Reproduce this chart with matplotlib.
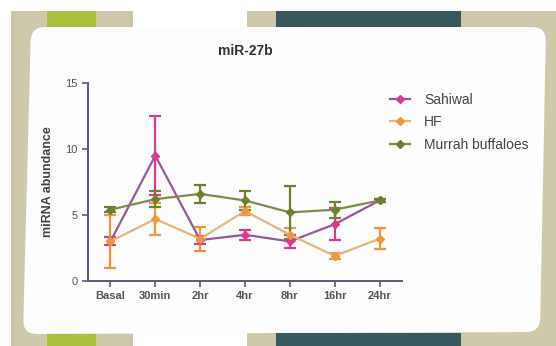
import numpy as np
import matplotlib
matplotlib.use("Agg")
import matplotlib.pyplot as plt
from matplotlib.path import Path
from matplotlib.patches import PathPatch, Rectangle
from matplotlib.lines import Line2D

plt.rcParams["font.family"] = ["Liberation Sans", "DejaVu Sans"]

# --- Data ---
timepoints = ["Basal", "30min", "2hr", "4hr", "8hr", "16hr", "24hr"]
sahiwal = [3.0, 9.5, 3.1, 3.5, 3.0, 4.3, 6.1]
sahiwal_err = [0.3, 3.0, 0.3, 0.4, 0.5, 1.2, 0.1]
hf = [3.0, 4.7, 3.2, 5.3, 3.5, 1.9, 3.2]
hf_err = [2.0, 1.2, 0.9, 0.3, 0.5, 0.2, 0.8]
murrah = [5.4, 6.2, 6.6, 6.1, 5.2, 5.4, 6.1]
murrah_err = [0.2, 0.6, 0.7, 0.7, 2.0, 0.6, 0.1]

W, H = 556, 346
fig = plt.figure(figsize=(W / 100, H / 100), dpi=100)
fig.patch.set_facecolor("white")

# --- background frame ---
bg = fig.add_axes([0, 0, 1, 1])
bg.set_xlim(0, W)
bg.set_ylim(H, 0)
bg.axis("off")

beige = "#cfc9ab"
bg.add_patch(Rectangle((11, 11), W - 11, H - 11, color=beige, lw=0))
bg.add_patch(Rectangle((133, 0), 114, 30, color="white", lw=0))
bg.add_patch(Rectangle((133, 326), 114, 30, color="white", lw=0))
bg.add_patch(Rectangle((47, 10.5), 49, 16.5, color="#abc03e", lw=0))
bg.add_patch(Rectangle((47, 333), 49, 13, color="#abc03e", lw=0))
bg.add_patch(Rectangle((276, 10.5), 185, 16.5, color="#37585c", lw=0))
bg.add_patch(Rectangle((276, 332.5), 185, 14, color="#37585c", lw=0))


def rounded_quad(pts, r):
    pts = [np.array(p, float) for p in pts]
    n = len(pts)
    verts, codes = [], []
    for i in range(n):
        p0, p1, p2 = pts[i - 1], pts[i], pts[(i + 1) % n]
        a = p1 + (p0 - p1) / np.linalg.norm(p0 - p1) * r
        b = p1 + (p2 - p1) / np.linalg.norm(p2 - p1) * r
        verts += [a, p1, b]
        codes += [Path.MOVETO if i == 0 else Path.LINETO, Path.CURVE3, Path.CURVE3]
    verts.append(verts[0])
    codes.append(Path.CLOSEPOLY)
    return Path(verts, codes)


card = rounded_quad([(31, 27), (546, 27), (540, 332), (23, 334)], 14)
bg.add_patch(PathPatch(card, facecolor="#fdfdfd", edgecolor="none"))

# --- chart ---
ax = fig.add_axes([88 / W, 1 - 281 / H, (402 - 88) / W, (281 - 83) / H])
ax.patch.set_alpha(0)
x = np.arange(len(timepoints))

series = [
    ("Sahiwal", sahiwal, sahiwal_err, "#a0549c", "#da3a8c"),
    ("HF", hf, hf_err, "#eab477", "#f0963a"),
    ("Murrah buffaloes", murrah, murrah_err, "#7f8c48", "#6f7f2e"),
]
handles = []
for name, vals, err, lc, mc in series:
    ax.errorbar(x, vals, yerr=err, color=lc, ecolor=mc, elinewidth=1.6,
                capsize=4, capthick=1.6, lw=1.6, marker="D", ms=4.5,
                mfc=mc, mec=mc)
    handles.append(Line2D([], [], color=lc, lw=1.6, marker="D", ms=4.5,
                          mfc=mc, mec=mc, label=name))

ax.set_xlim(-0.5, 6.5)
ax.set_ylim(0, 15)
ax.set_yticks([0, 5, 10, 15])
ax.set_xticks(x)
ax.set_xticklabels(timepoints, fontweight="bold")
for s in ["top", "right"]:
    ax.spines[s].set_visible(False)
for s in ["left", "bottom"]:
    ax.spines[s].set_color("#5a5a78")
    ax.spines[s].set_linewidth(1.4)
ax.tick_params(colors="#5a5a78", labelcolor="#555555", labelsize=8,
               width=1.2, length=4)
ax.set_ylabel("miRNA abundance", fontsize=9, fontweight="bold", color="#444444",
              labelpad=8)
ax.set_title("miR-27b", fontsize=10, fontweight="bold", color="#333333", pad=20)

fig.legend(handles=handles, loc="upper left",
           bbox_to_anchor=(384 / W, 1 - 87 / H), frameon=False,
           fontsize=10, labelcolor="#444444", handlelength=1.5,
           handletextpad=1.0, labelspacing=0.62, borderaxespad=0)

fig.savefig("out.png", dpi=100)
